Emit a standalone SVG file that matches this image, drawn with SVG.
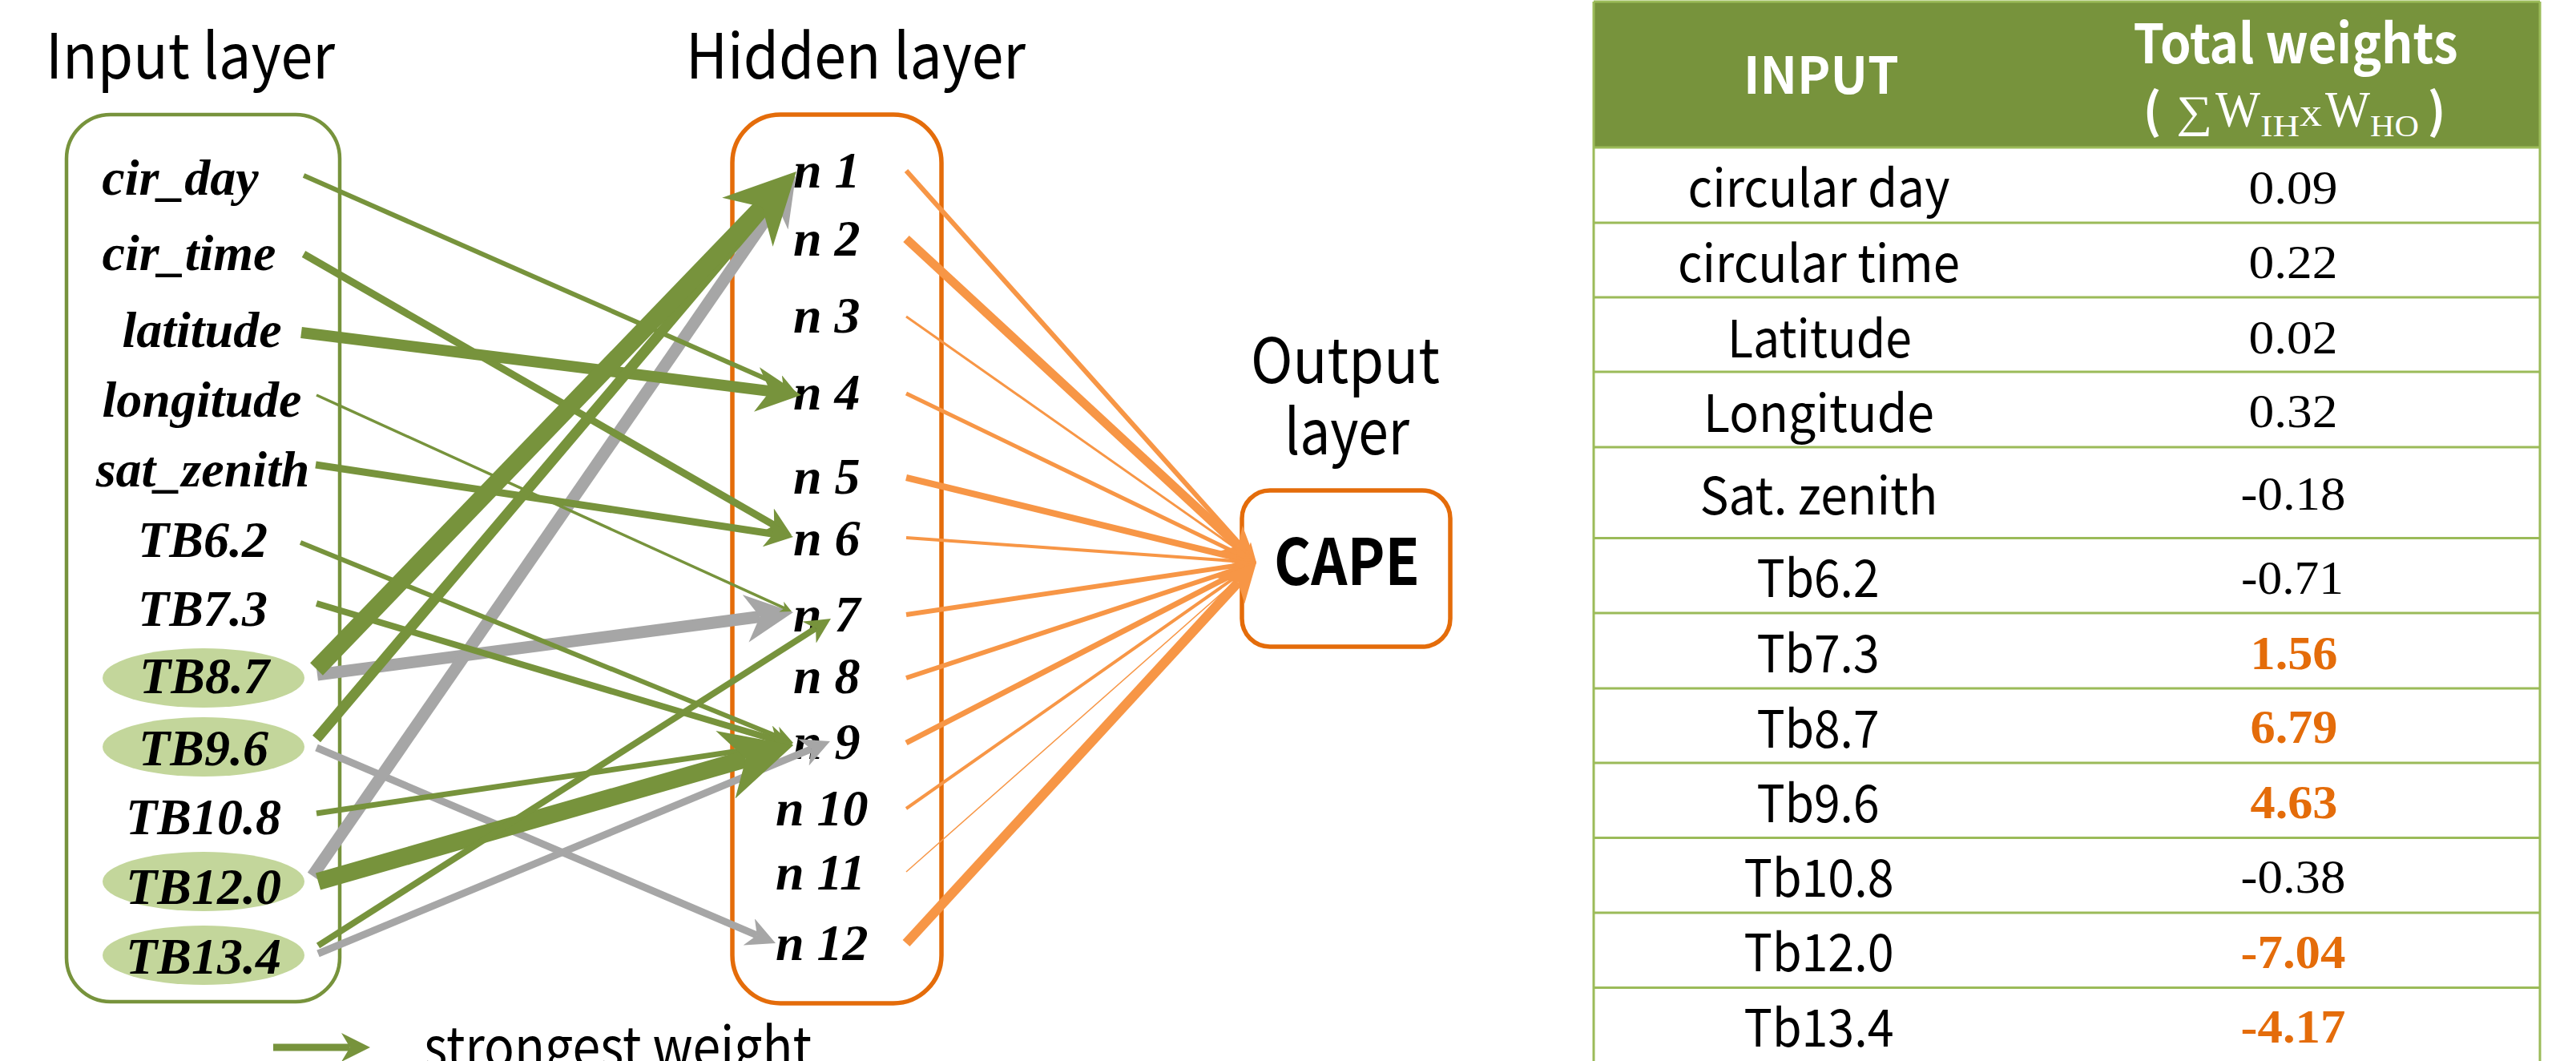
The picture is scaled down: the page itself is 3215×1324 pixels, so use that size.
<svg xmlns="http://www.w3.org/2000/svg" width="3215" height="1324" viewBox="0 0 3215 1324">
  <defs>
    <style>
      .sans { font-family: 'Noto Sans CJK KR', 'Noto Sans', sans-serif; fill: #000; }
      .title { font-size: 78px; }
      .lbl { font-family: 'Liberation Serif', 'Times New Roman', serif; font-style: italic; font-weight: bold; font-size: 64px; fill: #000; }
      .in { text-anchor: middle; }
      .cell { font-family: 'Noto Sans CJK KR', 'Noto Sans', sans-serif; font-size: 64px; text-anchor: middle; fill: #000; }
      .num { font-family: 'Liberation Serif', 'Times New Roman', serif; font-size: 60px; text-anchor: middle; fill: #000; }
      .hi { fill: #E46C0A; font-weight: bold; }
      .head { font-family: 'Noto Sans CJK KR', 'Noto Sans', sans-serif; font-weight: bold; fill: #fff; text-anchor: middle; }
      .hs { font-family: 'Liberation Serif', 'DejaVu Serif', serif; fill: #fff; }
      .g { stroke: #77933C; fill: none; marker-end: url(#ag); }
      .k { stroke: #A6A6A6; fill: none; marker-end: url(#ak); }
      .o { stroke: #F79646; fill: none; marker-end: url(#ao); }
      .grid { stroke: #9BBB59; stroke-width: 3; }
    </style>
    <marker id="ag" viewBox="0 0 10 10" refX="3" refY="5" markerWidth="4" markerHeight="4" markerUnits="strokeWidth" orient="auto">
      <path d="M0,0 L10,5 L0,10 L3,5 z" fill="#77933C"/>
    </marker>
    <marker id="ak" viewBox="0 0 10 10" refX="3" refY="5" markerWidth="4" markerHeight="4" markerUnits="strokeWidth" orient="auto">
      <path d="M0,0 L10,5 L0,10 L3,5 z" fill="#A6A6A6"/>
    </marker>
    <marker id="ao" viewBox="0 0 10 10" refX="3" refY="5" markerWidth="4" markerHeight="4" markerUnits="strokeWidth" orient="auto">
      <path d="M0,0 L10,5 L0,10 L3,5 z" fill="#F79646"/>
    </marker>
  </defs>

  <rect width="3215" height="1324" fill="#fff"/>

  <!-- layer titles -->
  <text class="sans title" x="57" y="98" textLength="361" lengthAdjust="spacingAndGlyphs">Input layer</text>
  <text class="sans title" x="856" y="98" textLength="424" lengthAdjust="spacingAndGlyphs">Hidden layer</text>
  <text class="sans title" x="1561" y="478" textLength="236" lengthAdjust="spacingAndGlyphs">Output</text>
  <text class="sans title" x="1603" y="567" textLength="156" lengthAdjust="spacingAndGlyphs">layer</text>

  <!-- input layer -->
  <g id="input-layer">
    <rect x="83" y="143" width="341" height="1107" rx="55" fill="none" stroke="#77933C" stroke-width="4.5"/>
    <ellipse cx="254" cy="846" rx="126" ry="37" fill="#C3D69B"/>
    <ellipse cx="254" cy="932" rx="126" ry="37" fill="#C3D69B"/>
    <ellipse cx="254" cy="1100" rx="126" ry="37" fill="#C3D69B"/>
    <ellipse cx="254" cy="1192" rx="126" ry="37" fill="#C3D69B"/>
    <text class="lbl in" x="225" y="243">cir_day</text>
    <text class="lbl in" x="236" y="337">cir_time</text>
    <text class="lbl in" x="252" y="433">latitude</text>
    <text class="lbl in" x="252" y="520">longitude</text>
    <text class="lbl in" x="253" y="607">sat_zenith</text>
    <text class="lbl in" x="253" y="695">TB6.2</text>
    <text class="lbl in" x="253" y="781">TB7.3</text>
    <text class="lbl in" x="255" y="865">TB8.7</text>
    <text class="lbl in" x="254" y="955">TB9.6</text>
    <text class="lbl in" x="254" y="1041">TB10.8</text>
    <text class="lbl in" x="254" y="1128">TB12.0</text>
    <text class="lbl in" x="254" y="1215">TB13.4</text>
  </g>

  <!-- hidden layer -->
  <g id="hidden-layer">
    <rect x="914" y="143" width="261" height="1109" rx="60" fill="none" stroke="#E46C0A" stroke-width="5.5"/>
    <text class="lbl" x="990" y="234">n 1</text>
    <text class="lbl" x="990" y="319">n 2</text>
    <text class="lbl" x="990" y="415">n 3</text>
    <text class="lbl" x="990" y="511">n 4</text>
    <text class="lbl" x="990" y="616">n 5</text>
    <text class="lbl" x="990" y="693">n 6</text>
    <text class="lbl" x="990" y="788">n 7</text>
    <text class="lbl" x="990" y="865">n 8</text>
    <text class="lbl" x="990" y="947">n 9</text>
    <text class="lbl" x="968" y="1030">n 10</text>
    <text class="lbl" x="968" y="1110">n 11</text>
    <text class="lbl" x="968" y="1198">n 12</text>
  </g>

  <!-- output layer -->
  <g id="output-cape">
    <rect x="1550" y="612" width="260" height="195" rx="35" fill="none" stroke="#E46C0A" stroke-width="5.5"/>
    <text class="sans" x="1590" y="730" font-size="80" font-weight="bold" textLength="182" lengthAdjust="spacingAndGlyphs">CAPE</text>
  </g>

  <!-- weighted connections -->
  <g id="connectors">
    <!-- input to hidden, negative / secondary weights -->
    <line class="k" x1="396" y1="842" x2="948.4" y2="769.5" stroke-width="15"/>
    <line class="k" x1="395" y1="933" x2="944.8" y2="1167.1" stroke-width="9"/>
    <line class="k" x1="390" y1="1093" x2="969.1" y2="254.6" stroke-width="15"/>
    <line class="k" x1="397" y1="1190" x2="1012.7" y2="934.7" stroke-width="9"/>
    <!-- input to hidden, strongest weights -->
    <line class="g" x1="379" y1="219" x2="977.6" y2="482.2" stroke-width="6"/>
    <line class="g" x1="379" y1="317" x2="966.2" y2="655.4" stroke-width="9"/>
    <line class="g" x1="376" y1="415" x2="961.1" y2="488.1" stroke-width="14"/>
    <line class="g" x1="395" y1="493" x2="979.1" y2="758.9" stroke-width="3.5"/>
    <line class="g" x1="394" y1="580" x2="965.1" y2="666.2" stroke-width="9"/>
    <line class="g" x1="375" y1="677" x2="974.4" y2="920.7" stroke-width="6"/>
    <line class="g" x1="395" y1="753" x2="968.5" y2="923.6" stroke-width="8"/>
    <line class="g" x1="395" y1="922" x2="959.5" y2="255.8" stroke-width="13"/>
    <line class="g" x1="395" y1="835" x2="951.2" y2="258.3" stroke-width="22"/>
    <line class="g" x1="395" y1="1015" x2="970.6" y2="929.9" stroke-width="7"/>
    <line class="g" x1="397" y1="1100" x2="930.8" y2="947" stroke-width="22"/>
    <line class="g" x1="397" y1="1180" x2="1018.1" y2="784" stroke-width="8"/>
    <!-- hidden to output -->
    <line class="o" x1="1131" y1="213" x2="1556.8" y2="689.5" stroke-width="6"/>
    <line class="o" x1="1131" y1="298" x2="1545.4" y2="681.1" stroke-width="11"/>
    <line class="o" x1="1131" y1="395" x2="1561.1" y2="697.2" stroke-width="3"/>
    <line class="o" x1="1131" y1="491" x2="1555.4" y2="695.9" stroke-width="5"/>
    <line class="o" x1="1131" y1="596" x2="1546.2" y2="696.7" stroke-width="8"/>
    <line class="o" x1="1131" y1="671" x2="1556.8" y2="701.2" stroke-width="4"/>
    <line class="o" x1="1131" y1="767" x2="1551.4" y2="704.5" stroke-width="6"/>
    <line class="o" x1="1131" y1="846" x2="1552" y2="707.3" stroke-width="6"/>
    <line class="o" x1="1131" y1="927" x2="1550.6" y2="711" stroke-width="7"/>
    <line class="o" x1="1131" y1="1009" x2="1558.8" y2="708.4" stroke-width="4"/>
    <line class="o" x1="1131" y1="1088" x2="1564.9" y2="704.8" stroke-width="1.5"/>
    <line class="o" x1="1131" y1="1177" x2="1545.3" y2="726.7" stroke-width="12"/>
  </g>

  <!-- legend -->
  <g id="legend">
    <line class="g" x1="341" y1="1307" x2="436.8" y2="1307" stroke-width="9"/>
    <text class="sans" x="529" y="1332" font-size="70" textLength="484" lengthAdjust="spacingAndGlyphs">strongest weight</text>
  </g>

  <!-- total weights table -->
  <g id="weights-table">
    <rect x="1989" y="2" width="1181" height="182" fill="#77933C"/>
    <line class="grid" x1="1989" y1="2" x2="3170" y2="2"/>
    <line class="grid" x1="1989" y1="184" x2="3170" y2="184"/>
    <line class="grid" x1="1989" y1="278" x2="3170" y2="278"/>
    <line class="grid" x1="1989" y1="371" x2="3170" y2="371"/>
    <line class="grid" x1="1989" y1="464" x2="3170" y2="464"/>
    <line class="grid" x1="1989" y1="558" x2="3170" y2="558"/>
    <line class="grid" x1="1989" y1="671.5" x2="3170" y2="671.5"/>
    <line class="grid" x1="1989" y1="765" x2="3170" y2="765"/>
    <line class="grid" x1="1989" y1="859" x2="3170" y2="859"/>
    <line class="grid" x1="1989" y1="952" x2="3170" y2="952"/>
    <line class="grid" x1="1989" y1="1045.5" x2="3170" y2="1045.5"/>
    <line class="grid" x1="1989" y1="1139" x2="3170" y2="1139"/>
    <line class="grid" x1="1989" y1="1232.5" x2="3170" y2="1232.5"/>
    <line class="grid" x1="1989" y1="2" x2="1989" y2="1324"/>
    <line class="grid" x1="3170" y1="2" x2="3170" y2="1324"/>

    <text class="head" x="2273" y="117" font-size="64" textLength="194" lengthAdjust="spacingAndGlyphs">INPUT</text>
    <text class="head" x="2865" y="79" font-size="68" textLength="405" lengthAdjust="spacingAndGlyphs">Total weights</text>
    <text class="head" x="2686" y="160" font-size="60" font-weight="normal">(</text>
    <text class="hs" x="2716" y="158" font-size="56" textLength="45" lengthAdjust="spacingAndGlyphs">∑</text>
    <text class="hs" x="2765" y="158" font-size="64" textLength="56" lengthAdjust="spacingAndGlyphs">W</text>
    <text class="hs" x="2821" y="170" font-size="38" textLength="49" lengthAdjust="spacingAndGlyphs">IH</text>
    <text class="hs" x="2870" y="157" font-size="50" textLength="28" lengthAdjust="spacingAndGlyphs">x</text>
    <text class="hs" x="2902" y="158" font-size="64" textLength="56" lengthAdjust="spacingAndGlyphs">W</text>
    <text class="hs" x="2958" y="170" font-size="38" textLength="61" lengthAdjust="spacingAndGlyphs">HO</text>
    <text class="head" x="3041" y="160" font-size="60" font-weight="normal">)</text>

    <text class="cell" x="2270" y="258" textLength="327" lengthAdjust="spacingAndGlyphs">circular day</text>
    <text class="cell" x="2270" y="352" textLength="352" lengthAdjust="spacingAndGlyphs">circular time</text>
    <text class="cell" x="2271" y="446" textLength="230" lengthAdjust="spacingAndGlyphs">Latitude</text>
    <text class="cell" x="2270" y="539" textLength="288" lengthAdjust="spacingAndGlyphs">Longitude</text>
    <text class="cell" x="2270" y="642" textLength="297" lengthAdjust="spacingAndGlyphs">Sat. zenith</text>
    <text class="cell" x="2269" y="745" textLength="153" lengthAdjust="spacingAndGlyphs">Tb6.2</text>
    <text class="cell" x="2269" y="839" textLength="153" lengthAdjust="spacingAndGlyphs">Tb7.3</text>
    <text class="cell" x="2269" y="933" textLength="153" lengthAdjust="spacingAndGlyphs">Tb8.7</text>
    <text class="cell" x="2269" y="1026" textLength="153" lengthAdjust="spacingAndGlyphs">Tb9.6</text>
    <text class="cell" x="2270" y="1119" textLength="187" lengthAdjust="spacingAndGlyphs">Tb10.8</text>
    <text class="cell" x="2270" y="1212" textLength="187" lengthAdjust="spacingAndGlyphs">Tb12.0</text>
    <text class="cell" x="2270" y="1306" textLength="187" lengthAdjust="spacingAndGlyphs">Tb13.4</text>

    <text class="num" x="2862" y="254" textLength="111" lengthAdjust="spacingAndGlyphs">0.09</text>
    <text class="num" x="2862" y="347" textLength="111" lengthAdjust="spacingAndGlyphs">0.22</text>
    <text class="num" x="2862" y="441" textLength="111" lengthAdjust="spacingAndGlyphs">0.02</text>
    <text class="num" x="2862" y="533" textLength="111" lengthAdjust="spacingAndGlyphs">0.32</text>
    <text class="num" x="2862" y="636" textLength="131" lengthAdjust="spacingAndGlyphs">-0.18</text>
    <text class="num" x="2861" y="741" textLength="128" lengthAdjust="spacingAndGlyphs">-0.71</text>
    <text class="num hi" x="2863" y="835" textLength="109" lengthAdjust="spacingAndGlyphs">1.56</text>
    <text class="num hi" x="2863" y="927" textLength="109" lengthAdjust="spacingAndGlyphs">6.79</text>
    <text class="num hi" x="2863" y="1021" textLength="109" lengthAdjust="spacingAndGlyphs">4.63</text>
    <text class="num" x="2862" y="1114" textLength="131" lengthAdjust="spacingAndGlyphs">-0.38</text>
    <text class="num hi" x="2862" y="1208" textLength="131" lengthAdjust="spacingAndGlyphs">-7.04</text>
    <text class="num hi" x="2862" y="1301" textLength="131" lengthAdjust="spacingAndGlyphs">-4.17</text>
  </g>
</svg>
